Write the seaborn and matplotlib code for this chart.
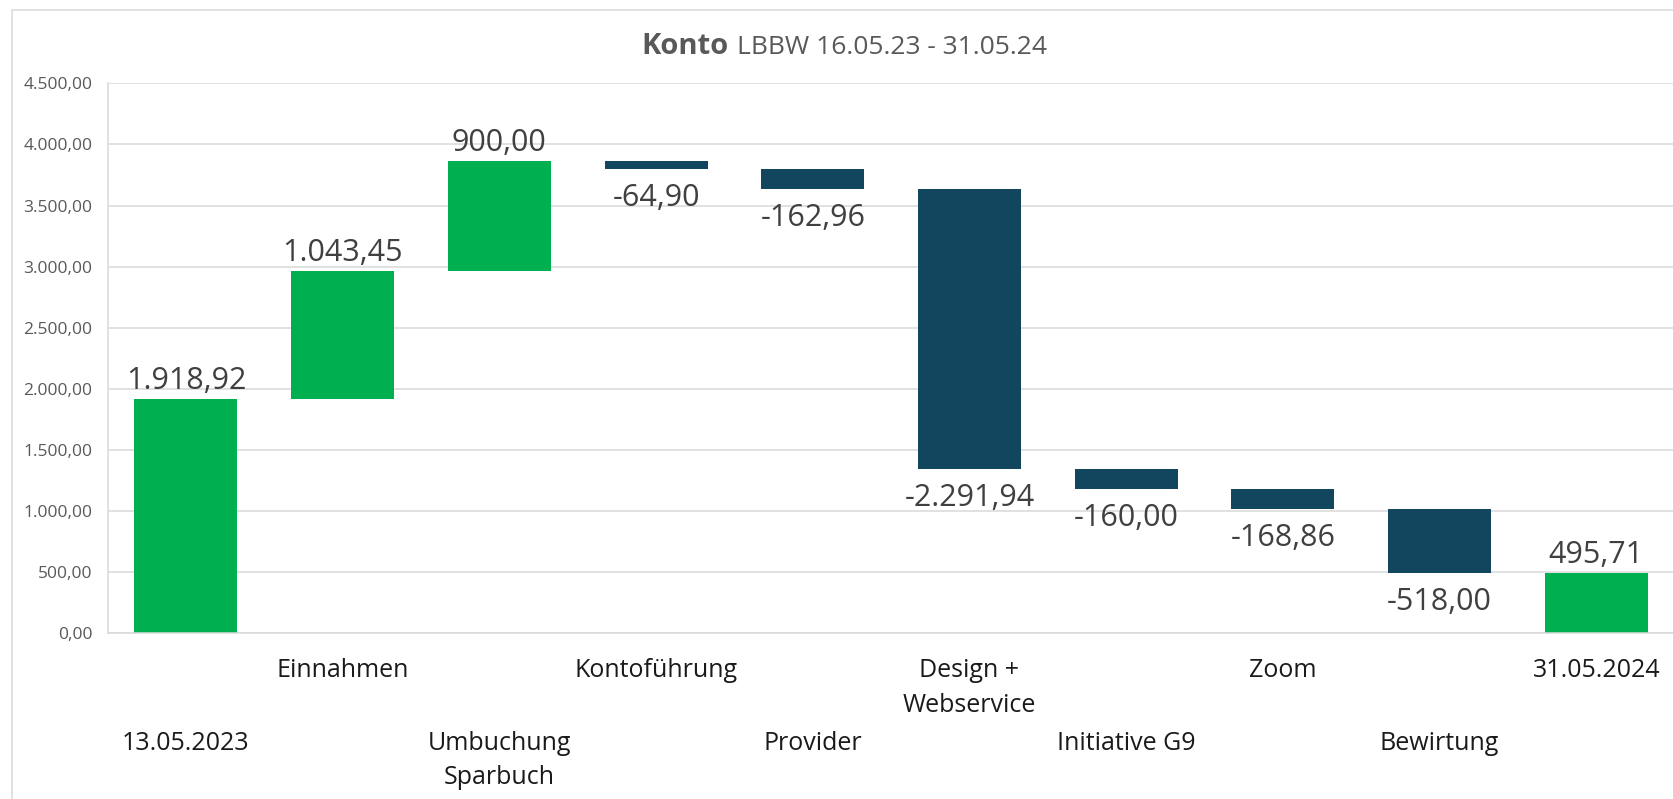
import seaborn as sns
import numpy as np
import matplotlib.pyplot as plt
from matplotlib.patches import Rectangle

categories = ['13.05.2023', 'Einnahmen', 'Umbuchung\nSparbuch', 'Kontoführung', 'Provider',
              'Design +\nWebservice', 'Initiative G9', 'Zoom', 'Bewirtung', '31.05.2024']
changes = [1918.92, 1043.45, 900.00, -64.90, -162.96, -2291.94, -160.00, -168.86, -518.00, 495.71]
is_total = [True, False, False, False, False, False, False, False, False, True]
y_ticks = [0, 500, 1000, 1500, 2000, 2500, 3000, 3500, 4000, 4500]

GREEN = '#00B050'
BLUE = '#12465F'
GREY = '#595959'
LINE = '#d9d9d9'


def de_fmt(v):
    s = f"{v:,.2f}"
    return s.replace(',', 'X').replace('.', ',').replace('X', '.')


# waterfall geometry
bottoms, heights, colors = [], [], []
running = 0.0
for val, tot in zip(changes, is_total):
    if tot:
        bottoms.append(0.0)
        heights.append(val)
        running = val
        colors.append(GREEN)
    else:
        if val >= 0:
            bottoms.append(running)
            colors.append(GREEN)
        else:
            bottoms.append(running + val)
            colors.append(BLUE)
        heights.append(abs(val))
        running += val

sns.set_theme(style='white')
plt.rcParams['font.family'] = ['Open Sans', 'DejaVu Sans']

W, H = 1674, 799
fig = plt.figure(figsize=(W / 100, H / 100), dpi=100)
ax = fig.add_axes([107.6 / W, (H - 633.3) / H, 1567 / W, 550 / H])

sns.barplot(x=categories, y=heights, hue=categories, palette=colors, legend=False,
            width=0.657, saturation=1, ax=ax)
for patch, b in zip(ax.patches, bottoms):
    patch.set_y(b)
    patch.set_linewidth(0)

# value labels
for i, (val, b, h) in enumerate(zip(changes, bottoms, heights)):
    if val >= 0:
        ax.annotate(de_fmt(val), (i, b + h), xytext=(0, 2), textcoords='offset points',
                    ha='center', va='bottom', fontsize=22, color='#404040')
    else:
        ax.annotate(de_fmt(val), (i, b), xytext=(0, -10), textcoords='offset points',
                    ha='center', va='top', fontsize=22, color='#404040')

ax.set_xlim(-0.5, len(categories) - 0.5)
ax.set_ylim(0, 4500)
ax.set_yticks(y_ticks, [de_fmt(v) for v in y_ticks])
ax.tick_params(axis='y', length=0, pad=11, labelsize=12.5, labelcolor=GREY)

# category labels staggered in two rows
odd = [i for i in range(len(categories)) if i % 2 == 1]
even = [i for i in range(len(categories)) if i % 2 == 0]
ax.set_xticks(odd, [categories[i] for i in odd], linespacing=1.5)
ax.set_xticks(even, [categories[i] for i in even], minor=True, linespacing=1.5)
ax.tick_params(axis='x', which='major', length=0, pad=18, labelsize=18, labelcolor='#1a1a1a')
ax.tick_params(axis='x', which='minor', length=0, pad=70, labelsize=18, labelcolor='#1a1a1a')
ax.set_xlabel('')
ax.set_ylabel('')

ax.yaxis.grid(True, color=LINE, lw=1.1)
ax.set_axisbelow(True)
for s in ['top', 'right']:
    ax.spines[s].set_visible(False)
for s in ['left', 'bottom']:
    ax.spines[s].set_color(LINE)
    ax.spines[s].set_linewidth(1.1)

# title
fig.text(729 / W, 1 - 54 / H, 'Konto', ha='right', va='baseline', fontsize=21,
         weight='bold', color=GREY)
fig.text(737 / W, 1 - 54 / H, 'LBBW 16.05.23 - 31.05.24', ha='left', va='baseline',
         fontsize=19, color=GREY)

# chart frame
fig.patches.append(Rectangle((12 / W, -0.05), 1.1, 1 - 10 / H + 0.05, transform=fig.transFigure,
                             fill=False, ec=LINE, lw=1.1))

fig.savefig('out.png', dpi=100)
